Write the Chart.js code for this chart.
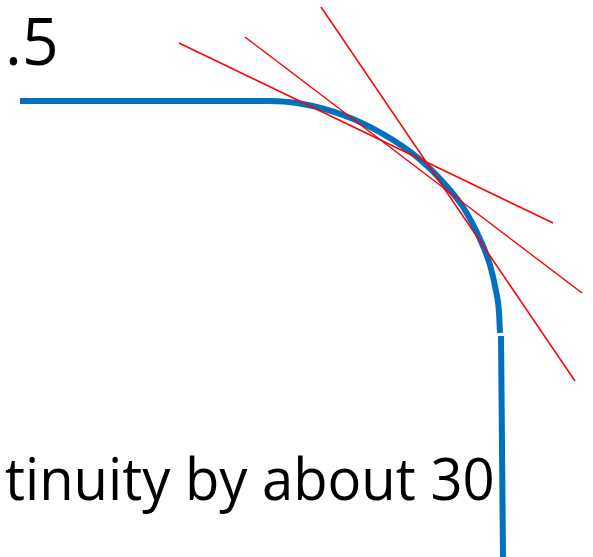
<!DOCTYPE html>
<html>
<head>
<meta charset="utf-8">
<script src="https://cdn.jsdelivr.net/npm/chart.js@4"></script>
<style>
  html, body { margin: 0; padding: 0; background: #fff; }
  #wrap { width: 593px; height: 557px; }
</style>
</head>
<body>
<div id="wrap"><canvas id="c"></canvas></div>
<script>
// blue curve: flat run, rounded corner (pixel units of the slide, y grows downward)
const curveX = [20, 268, 300, 343, 383, 417, 443, 463, 480, 490, 496, 499, 500];
const curveY = [101, 101, 103.5, 115, 134, 157, 182, 207, 239, 265, 291, 312, 333];
// vertical part after the small break
const dropX = [501, 503];
const dropY = [336, 557];
// red tangent lines, [start, end]
const tan1X = [179, 553], tan1Y = [43, 223];
const tan2X = [245, 582], tan2Y = [37, 293];
const tan3X = [321, 575], tan3Y = [7, 381];

const topText = '.5';
const bottomText = 'tinuity by about 30';

function pts(xs, ys) {
  return xs.map((x, i) => ({ x: x, y: ys[i] }));
}

const BLUE = '#0070C0';
const RED = '#FF0000';

function redLine(xs, ys) {
  return { data: pts(xs, ys), borderColor: RED, borderWidth: 1.5, pointRadius: 0, showLine: true, tension: 0, order: 0 };
}

// draw text so its ink fills the given box width
function drawFitted(ctx, text, left, right, baseline, size) {
  ctx.save();
  ctx.font = size + 'px "Open Sans", "Noto Sans", sans-serif';
  ctx.fillStyle = '#000';
  ctx.textBaseline = 'alphabetic';
  const m = ctx.measureText(text);
  const inkW = m.actualBoundingBoxRight + m.actualBoundingBoxLeft;
  const sx = (right - left) / inkW;
  ctx.translate(left, baseline);
  ctx.scale(sx, 1);
  ctx.fillText(text, m.actualBoundingBoxLeft, 0);
  ctx.restore();
}

const textPlugin = {
  id: 'slideText',
  afterDraw(chart) {
    const ctx = chart.ctx;
    const sx = chart.scales.x, sy = chart.scales.y;
    drawFitted(ctx, topText, sx.getPixelForValue(9), sx.getPixelForValue(55), sy.getPixelForValue(65), 66);
    drawFitted(ctx, bottomText, sx.getPixelForValue(5), sx.getPixelForValue(492), sy.getPixelForValue(500), 59);
  }
};

new Chart(document.getElementById('c'), {
  type: 'scatter',
  data: {
    datasets: [
      redLine(tan1X, tan1Y),
      redLine(tan2X, tan2Y),
      redLine(tan3X, tan3Y),
      {
        data: pts(curveX, curveY),
        borderColor: BLUE,
        borderWidth: 6,
        pointRadius: 0,
        showLine: true,
        cubicInterpolationMode: 'monotone',
        borderCapStyle: 'butt',
        order: 1
      },
      {
        data: pts(dropX, dropY),
        borderColor: BLUE,
        borderWidth: 6,
        pointRadius: 0,
        showLine: true,
        borderCapStyle: 'butt',
        order: 1
      }
    ]
  },
  options: {
    responsive: true,
    maintainAspectRatio: false,
    animation: false,
    layout: { padding: 0 },
    plugins: { legend: { display: false }, tooltip: { enabled: false } },
    scales: {
      x: { type: 'linear', min: 0, max: 593, display: false },
      y: { type: 'linear', min: 0, max: 557, reverse: true, display: false }
    }
  },
  plugins: [textPlugin]
});
</script>
</body>
</html>
